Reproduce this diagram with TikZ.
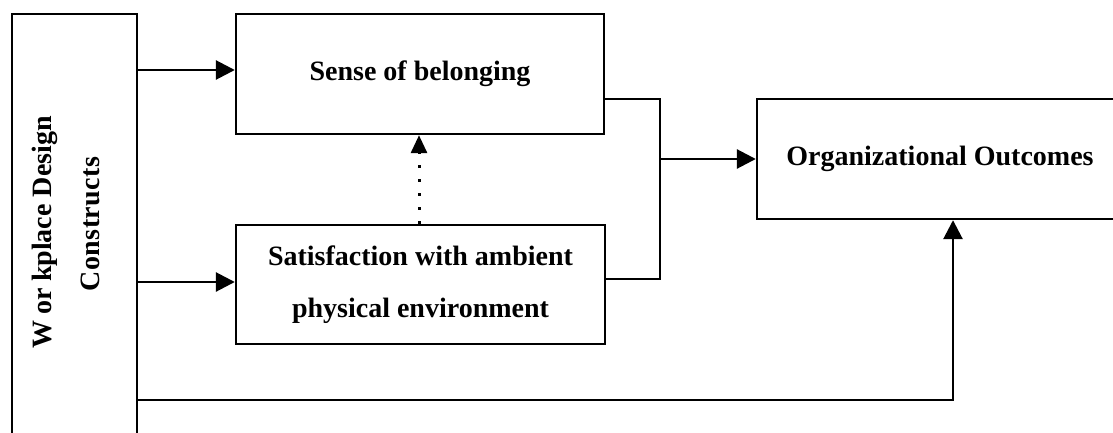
\documentclass[tikz,border=0pt]{standalone}
\usepackage{fontspec}
\setmainfont{Liberation Serif}
\usetikzlibrary{arrows.meta}
\begin{document}
\begin{tikzpicture}[x=1pt,y=-1pt,
  box/.style={draw, line width=2.4pt, inner sep=0pt, align=center,
    font=\fontsize{28}{52}\selectfont\bfseries},
  conn/.style={line width=2.8pt},
  arr/.style={conn, -{Triangle[length=19pt,width=19pt]}},
  dotarr/.style={line width=3pt, dash pattern=on 3pt off 11pt,
    -{Triangle[length=18pt,width=16pt]}},
  vlabel/.style={rotate=90, inner sep=0pt,
    font=\fontsize{28}{34}\selectfont\bfseries},
]
\useasboundingbox (0,0) rectangle (1113,433);
\clip (0,0) rectangle (1113,433);
\fill[white] (0,0) rectangle (1113,433);
% nodes
\node[box, minimum width=125pt, minimum height=436pt] (wdc) at (74.5,232) {};
\node[vlabel] (wdcl1) at (45,232.5) {W\hspace{0.22em}or\hspace{0.22em}kplace Design};
\node[vlabel] (wdcl2) at (90,224) {C\kern0.5pt o\kern0.5pt n\kern0.5pt s\kern0.5pt t\kern0.5pt r\kern0.5pt u\kern0.5pt c\kern0.5pt t\kern0.5pt s};
\node[box, minimum width=368pt, minimum height=120pt] (sob) at (420,74) {Sense of belonging};
\node[box, minimum width=369pt, minimum height=119pt] (sat) at (420.5,284.5)
  {Satisfaction with ambient\\physical environment};
\node[box, minimum width=366pt, minimum height=120pt] (org) at (940,159) {Organizational Outcomes};
% helper coordinates
\coordinate (y1) at (0,70);
\coordinate (y2) at (0,282);
\coordinate (y3) at (0,99);
\coordinate (y4) at (0,279);
\coordinate (y5) at (0,400);
\coordinate (xj) at (660,0);
\coordinate (xb) at (953,0);
\coordinate (xd) at (419,0);
\coordinate (jn) at (xj |- org.west);
% connectors
\draw[arr] (wdc.east |- y1) -- (sob.west |- y1);
\draw[arr] (wdc.east |- y2) -- (sat.west |- y2);
\draw[conn] (sob.east |- y3) -| (xj |- y4) -- (sat.east |- y4);
\draw[arr] (jn) -- (org.west);
\draw[arr] (wdc.east |- y5) -| (org.south -| xb);
\draw[dotarr] (sat.north -| xd) -- (sob.south -| xd);
\end{tikzpicture}
\end{document}
